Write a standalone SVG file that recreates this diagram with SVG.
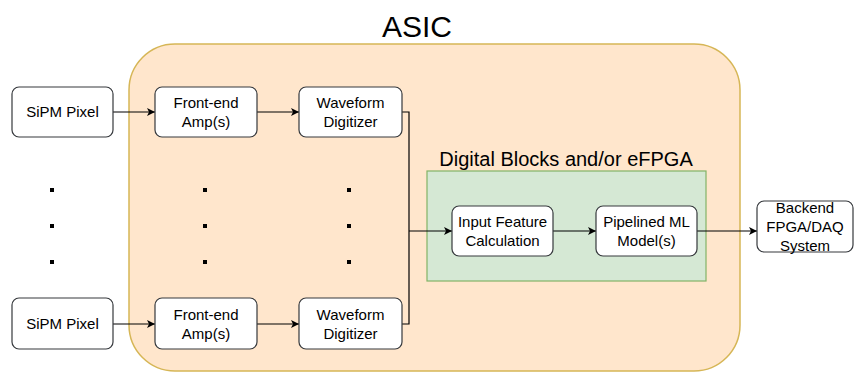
<svg xmlns="http://www.w3.org/2000/svg" width="854" height="372" viewBox="0 0 854 372">
<defs>
<marker id="arr" viewBox="0 0 10 10" refX="10" refY="5" markerWidth="8" markerHeight="8" markerUnits="userSpaceOnUse" orient="auto">
<path d="M0,0 L10,5 L0,10 L2.5,5 Z" fill="#000"/>
</marker>
</defs>
<style>
text{font-family:"Liberation Sans",Arial,Helvetica,sans-serif;fill:#000;text-anchor:middle}
.box{fill:#fff;stroke:#36393d;stroke-width:1.2}
.t{font-size:15px}
.c{fill:none;stroke:#000;stroke-width:1.2}
.dot{fill:#000}
</style>
<rect width="854" height="372" fill="#fff"/>
<g id="asic">
<rect x="129" y="44" width="611" height="327" rx="46" ry="46" fill="#ffe6cc" stroke="#d6b656" stroke-width="1.5"/>
<text x="417" y="37" style="font-size:30px">ASIC</text>
</g>
<g id="digital">
<rect x="427" y="171" width="279" height="110" fill="#d5e8d4" stroke="#82b366" stroke-width="1.2"/>
<text x="566" y="166" style="font-size:20px">Digital Blocks and/or eFPGA</text>
</g>
<g id="connectors">
<path class="c" d="M113,112 H155" marker-end="url(#arr)"/>
<path class="c" d="M257,112 H299" marker-end="url(#arr)"/>
<path class="c" d="M113,324 H155" marker-end="url(#arr)"/>
<path class="c" d="M257,324 H299" marker-end="url(#arr)"/>
<path class="c" d="M402,112 H409 V324 H402"/>
<path class="c" d="M409,231 H452" marker-end="url(#arr)"/>
<path class="c" d="M553,231 H596" marker-end="url(#arr)"/>
<path class="c" d="M697,231 H757" marker-end="url(#arr)"/>
</g>
<g id="sipm1"><rect class="box" x="12" y="87" width="101" height="50" rx="7"/><text class="t" x="62.5" y="117">SiPM Pixel</text></g>
<g id="fe1"><rect class="box" x="155" y="87" width="102" height="50" rx="7"/><text class="t" x="206" y="108">Front-end</text><text class="t" x="206" y="127">Amp(s)</text></g>
<g id="wd1"><rect class="box" x="299" y="87" width="103" height="50" rx="7"/><text class="t" x="350.5" y="108">Waveform</text><text class="t" x="350.5" y="127">Digitizer</text></g>
<g id="sipm2"><rect class="box" x="12" y="298" width="101" height="51" rx="7"/><text class="t" x="62.5" y="329">SiPM Pixel</text></g>
<g id="fe2"><rect class="box" x="155" y="298" width="102" height="51" rx="7"/><text class="t" x="206" y="320">Front-end</text><text class="t" x="206" y="339">Amp(s)</text></g>
<g id="wd2"><rect class="box" x="299" y="298" width="103" height="51" rx="7"/><text class="t" x="350.5" y="320">Waveform</text><text class="t" x="350.5" y="339">Digitizer</text></g>
<g id="ifc"><rect class="box" x="452" y="206" width="101" height="50" rx="7"/><text class="t" x="502.5" y="227">Input Feature</text><text class="t" x="502.5" y="246">Calculation</text></g>
<g id="ml"><rect class="box" x="596" y="206" width="101" height="50" rx="7"/><text class="t" x="646.5" y="227">Pipelined ML</text><text class="t" x="646.5" y="246">Model(s)</text></g>
<g id="backend"><rect class="box" x="757" y="201" width="96" height="51" rx="7"/><text class="t" x="805" y="213">Backend</text><text class="t" x="805" y="232">FPGA/DAQ</text><text class="t" x="805" y="251">System</text></g>
<g id="dots">
<rect class="dot" x="50" y="188" width="4" height="4"/>
<rect class="dot" x="50" y="224" width="4" height="4"/>
<rect class="dot" x="50" y="260" width="4" height="4"/>
<rect class="dot" x="203" y="188" width="4" height="4"/>
<rect class="dot" x="203" y="224" width="4" height="4"/>
<rect class="dot" x="203" y="260" width="4" height="4"/>
<rect class="dot" x="347" y="188" width="4" height="4"/>
<rect class="dot" x="347" y="224" width="4" height="4"/>
<rect class="dot" x="347" y="260" width="4" height="4"/>
</g>
</svg>
